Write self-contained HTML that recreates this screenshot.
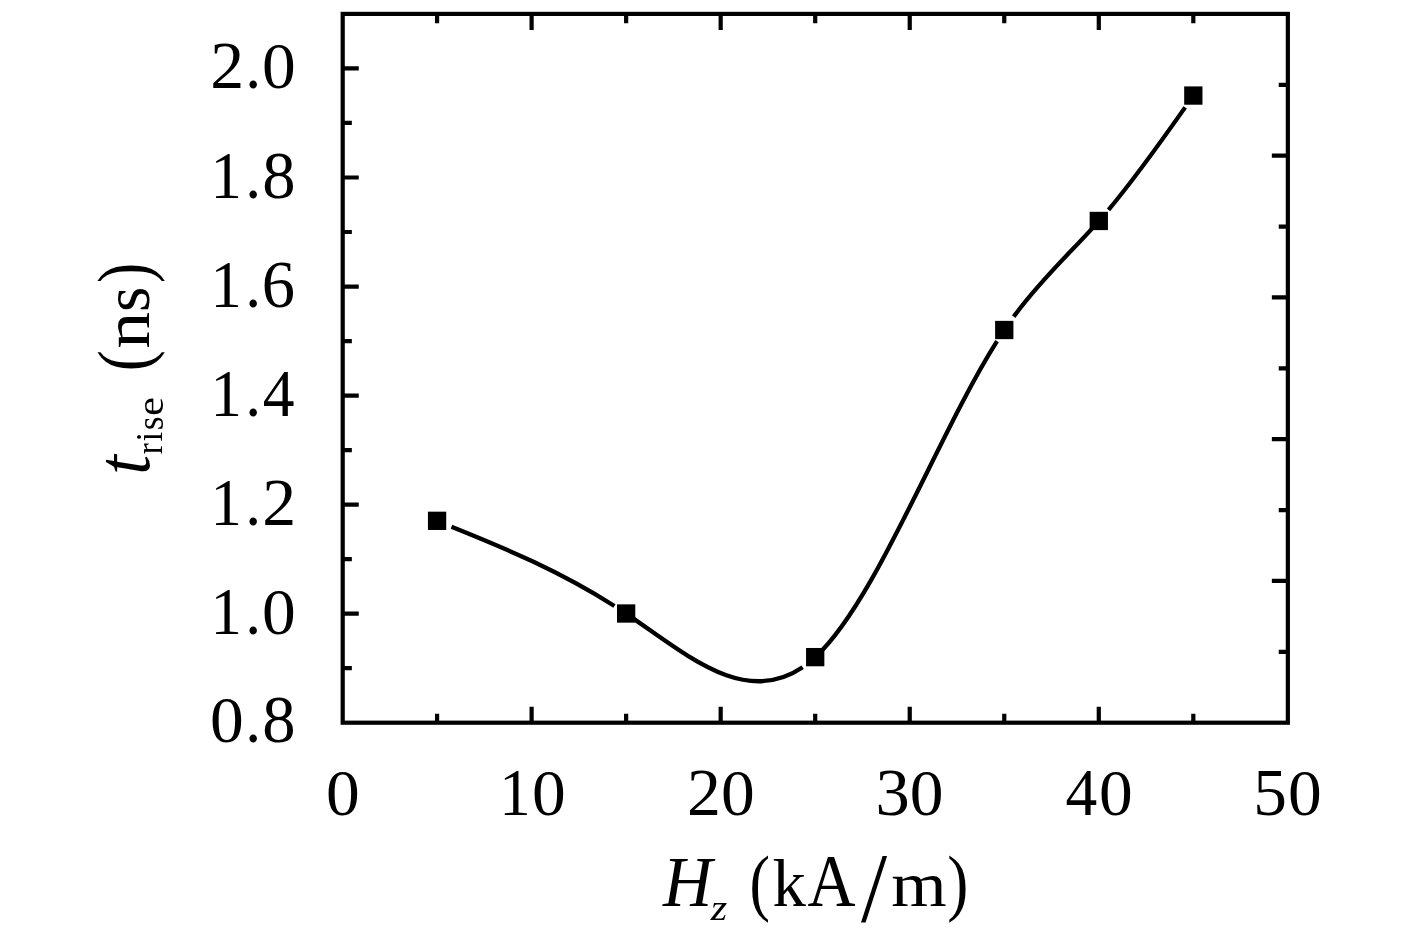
<!DOCTYPE html>
<html lang="en">
<head>
<meta charset="utf-8">
<title>t_rise versus H_z</title>
<style>
html,body{margin:0;padding:0;background:#fff;}
body{width:1417px;height:945px;overflow:hidden;}
svg{display:block;}
</style>
</head>
<body>
<svg width="1417" height="945" viewBox="0 0 1417 945">
<rect width="1417" height="945" fill="#fff"/>
<g stroke="#000" fill="none" stroke-linecap="butt">
<rect x="342.7" y="13.9" width="945.15" height="708.8" stroke-width="4.2" stroke-linejoin="miter"/>
<path d="M437.08 13.9V23.2M437.08 722.7V713.75M531.61 13.9V30.1M531.61 722.7V706.85M626.14 13.9V23.2M626.14 722.7V713.75M720.67 13.9V30.1M720.67 722.7V706.85M815.2 13.9V23.2M815.2 722.7V713.75M909.73 13.9V30.1M909.73 722.7V706.85M1004.26 13.9V23.2M1004.26 722.7V713.75M1098.79 13.9V30.1M1098.79 722.7V706.85M1193.32 13.9V23.2M1193.32 722.7V713.75M342.55 668.18H351.85M342.55 613.66H358.75M342.55 559.14H351.85M342.55 504.62H358.75M342.55 450.1H351.85M342.55 395.58H358.75M342.55 341.05H351.85M342.55 286.53H358.75M342.55 232.01H351.85M342.55 177.49H358.75M342.55 122.97H351.85M342.55 68.45H358.75M1287.85 84.78H1278.75M1287.85 155.66H1271.85M1287.85 226.54H1278.75M1287.85 297.42H1271.85M1287.85 368.3H1278.75M1287.85 439.18H1271.85M1287.85 510.06H1278.75M1287.85 580.94H1271.85M1287.85 651.82H1278.75" stroke-width="4.2"/>
<path d="M451.47 526.74C505.79 548.55 560.11 571.32 614.43 605.99M626.14 613.66C684.97 653.12 743.8 707.46 802.63 667.33M815.2 657.28C875.82 601.48 936.44 437.11 997.06 341.21M1013.73 316.64C1042.09 277.87 1070.44 253.21 1098.79 221.11M1108.51 209.82C1134.05 179.45 1159.59 143.67 1185.13 107.37" stroke-width="4.3"/>
</g>
<g fill="#000">
<rect x="427.93" y="511.67" width="18.3" height="18.3"/>
<rect x="616.99" y="604.36" width="18.3" height="18.3"/>
<rect x="806.05" y="647.98" width="18.3" height="18.3"/>
<rect x="995.11" y="320.85" width="18.3" height="18.3"/>
<rect x="1089.64" y="211.81" width="18.3" height="18.3"/>
<rect x="1184.17" y="86.41" width="18.3" height="18.3"/>
</g>
<g font-family="'Liberation Serif', 'Times New Roman', serif" fill="#000">
<text><tspan x="210.03" y="742" font-size="65.5" textLength="33.74" lengthAdjust="spacingAndGlyphs">0</tspan><tspan x="245.32" y="742" font-size="68.5" textLength="15.87" lengthAdjust="spacingAndGlyphs">.</tspan><tspan x="262.22" y="742" font-size="68.5" textLength="33.27" lengthAdjust="spacingAndGlyphs">8</tspan></text>
<text><tspan x="210.38" y="634" font-size="68.5" textLength="31.39" lengthAdjust="spacingAndGlyphs">1</tspan><tspan x="245.32" y="634" font-size="68.5" textLength="15.87" lengthAdjust="spacingAndGlyphs">.</tspan><tspan x="261.98" y="634" font-size="65.5" textLength="33.74" lengthAdjust="spacingAndGlyphs">0</tspan></text>
<text><tspan x="210.38" y="525" font-size="68.5" textLength="31.39" lengthAdjust="spacingAndGlyphs">1</tspan><tspan x="245.32" y="525" font-size="68.5" textLength="15.87" lengthAdjust="spacingAndGlyphs">.</tspan><tspan x="262.27" y="525" font-size="68.5" textLength="33.93" lengthAdjust="spacingAndGlyphs">2</tspan></text>
<text><tspan x="210.38" y="416" font-size="68.5" textLength="31.39" lengthAdjust="spacingAndGlyphs">1</tspan><tspan x="245.32" y="416" font-size="68.5" textLength="15.87" lengthAdjust="spacingAndGlyphs">.</tspan><tspan x="262.86" y="416" font-size="68.5" textLength="31.73" lengthAdjust="spacingAndGlyphs">4</tspan></text>
<text><tspan x="210.38" y="307" font-size="68.5" textLength="31.39" lengthAdjust="spacingAndGlyphs">1</tspan><tspan x="245.32" y="307" font-size="68.5" textLength="15.87" lengthAdjust="spacingAndGlyphs">.</tspan><tspan x="261.79" y="307" font-size="68.5" textLength="33.24" lengthAdjust="spacingAndGlyphs">6</tspan></text>
<text><tspan x="210.38" y="198" font-size="68.5" textLength="31.39" lengthAdjust="spacingAndGlyphs">1</tspan><tspan x="245.32" y="198" font-size="68.5" textLength="15.87" lengthAdjust="spacingAndGlyphs">.</tspan><tspan x="262.22" y="198" font-size="68.5" textLength="33.27" lengthAdjust="spacingAndGlyphs">8</tspan></text>
<text><tspan x="210.32" y="88" font-size="68.5" textLength="33.93" lengthAdjust="spacingAndGlyphs">2</tspan><tspan x="245.32" y="88" font-size="68.5" textLength="15.87" lengthAdjust="spacingAndGlyphs">.</tspan><tspan x="261.98" y="88" font-size="65.5" textLength="33.74" lengthAdjust="spacingAndGlyphs">0</tspan></text>
<text><tspan x="325.93" y="815" font-size="65.5" textLength="33.74" lengthAdjust="spacingAndGlyphs">0</tspan></text>
<text><tspan x="499.18" y="815" font-size="68.5" textLength="31.39" lengthAdjust="spacingAndGlyphs">1</tspan><tspan x="532.08" y="815" font-size="65.5" textLength="33.74" lengthAdjust="spacingAndGlyphs">0</tspan></text>
<text><tspan x="687.02" y="815" font-size="68.5" textLength="33.93" lengthAdjust="spacingAndGlyphs">2</tspan><tspan x="720.98" y="815" font-size="65.5" textLength="33.74" lengthAdjust="spacingAndGlyphs">0</tspan></text>
<text><tspan x="875.62" y="815" font-size="68.5" textLength="34.25" lengthAdjust="spacingAndGlyphs">3</tspan><tspan x="909.88" y="815" font-size="65.5" textLength="33.74" lengthAdjust="spacingAndGlyphs">0</tspan></text>
<text><tspan x="1065.46" y="815" font-size="68.5" textLength="31.73" lengthAdjust="spacingAndGlyphs">4</tspan><tspan x="1099.08" y="815" font-size="65.5" textLength="33.74" lengthAdjust="spacingAndGlyphs">0</tspan></text>
<text><tspan x="1253.19" y="815" font-size="68.5" textLength="33.64" lengthAdjust="spacingAndGlyphs">5</tspan><tspan x="1288.03" y="815" font-size="65.5" textLength="33.74" lengthAdjust="spacingAndGlyphs">0</tspan></text>
<text><tspan x="662.93" y="906.2" font-size="71.17" font-style="italic" textLength="49.3" lengthAdjust="spacingAndGlyphs">H</tspan><tspan x="710.88" y="920.1" font-size="36.82" font-style="italic" textLength="16.48" lengthAdjust="spacingAndGlyphs">z</tspan><tspan font-size="40"> </tspan><tspan x="749.5" y="907.22" font-size="73.67" textLength="20.49" lengthAdjust="spacingAndGlyphs">(</tspan><tspan x="772.43" y="906.2" font-size="67.16" textLength="33.37" lengthAdjust="spacingAndGlyphs">k</tspan><tspan x="807.45" y="906.2" font-size="73.47" textLength="48.04" lengthAdjust="spacingAndGlyphs">A</tspan><tspan x="860.9" y="920.94" font-size="98.66" textLength="26.1" lengthAdjust="spacingAndGlyphs">/</tspan><tspan x="891.2" y="906.2" font-size="63.46" textLength="55.41" lengthAdjust="spacingAndGlyphs">m</tspan><tspan x="947.35" y="907.22" font-size="73.67" textLength="21.13" lengthAdjust="spacingAndGlyphs">)</tspan></text>
<text transform="translate(148.5 472) rotate(-90)"><tspan x="-2.72" y="0.4" font-size="75.08" font-style="italic" textLength="19.7" lengthAdjust="spacingAndGlyphs">t</tspan><tspan x="17.74" y="13.9" font-size="38.5" textLength="11.06" lengthAdjust="spacingAndGlyphs">r</tspan><tspan x="30.38" y="13.9" font-size="38.5" textLength="9.58" lengthAdjust="spacingAndGlyphs">i</tspan><tspan x="41.64" y="14.2" font-size="38.5" textLength="13.84" lengthAdjust="spacingAndGlyphs">s</tspan><tspan x="56.02" y="14.2" font-size="38.5" textLength="19.07" lengthAdjust="spacingAndGlyphs">e</tspan><tspan font-size="40"> </tspan><tspan x="100.81" y="0.47" font-size="73.89" textLength="21.13" lengthAdjust="spacingAndGlyphs">(</tspan><tspan x="123.31" y="0" font-size="64.52" textLength="36.91" lengthAdjust="spacingAndGlyphs">n</tspan><tspan x="160.12" y="0.07" font-size="64.66" textLength="25.44" lengthAdjust="spacingAndGlyphs">s</tspan><tspan x="188.94" y="0.47" font-size="73.89" textLength="20.23" lengthAdjust="spacingAndGlyphs">)</tspan></text>
</g>
</svg>
</body>
</html>
